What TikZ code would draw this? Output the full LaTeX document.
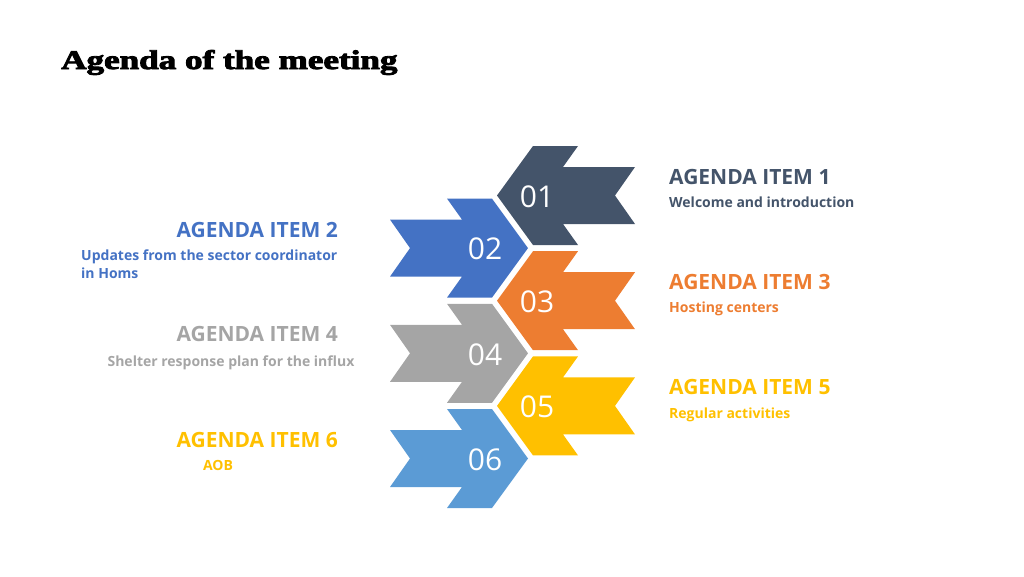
\documentclass[tikz,border=0pt]{standalone}
\usepackage{fontspec}
\setmainfont{Open Sans}
\newfontfamily\titlefont{Liberation Serif Bold}[FakeBold=3]
\definecolor{slate}{HTML}{44546A}
\definecolor{royal}{HTML}{4472C4}
\definecolor{orng}{HTML}{ED7D31}
\definecolor{gry}{HTML}{A5A5A5}
\definecolor{gold}{HTML}{FFC000}
\definecolor{sky}{HTML}{5B9BD5}

\begin{document}
\begin{tikzpicture}[x=1pt,y=-1pt,
	num/.style={text=white,font=\fontsize{30}{30}\selectfont,inner sep=0pt},
	head/.style={font=\bfseries\fontsize{21}{21}\selectfont,inner sep=0pt},
	sub/.style={font=\bfseries\fontsize{14}{18}\selectfont,inner sep=0pt}]
	\useasboundingbox (0,0) rectangle (1024,576);
	\node[font=\titlefont\fontsize{27}{27}\selectfont,anchor=base west,inner sep=0pt] (title) at (61,69) {\scalebox{1.3}[1]{Agenda of the meeting}};
	% arrows pointing left
	\fill[slate,shift={(497,195.5)}] (0,0) -- (36,-49.5) -- (81,-49.5) -- (66,-28.5) -- (138,-28.5) -- (118,0) -- (138,28.5) -- (66,28.5) -- (81,49.5) -- (36,49.5) -- cycle;
	\fill[orng,shift={(497,300.7)}] (0,0) -- (36,-49.5) -- (81,-49.5) -- (66,-28.5) -- (138,-28.5) -- (118,0) -- (138,28.5) -- (66,28.5) -- (81,49.5) -- (36,49.5) -- cycle;
	\fill[gold,shift={(497,405.9)}] (0,0) -- (36,-49.5) -- (81,-49.5) -- (66,-28.5) -- (138,-28.5) -- (118,0) -- (138,28.5) -- (66,28.5) -- (81,49.5) -- (36,49.5) -- cycle;
	% arrows pointing right
	\fill[royal,shift={(528,248.1)}] (0,0) -- (-36,-49.5) -- (-81,-49.5) -- (-66,-28.5) -- (-138,-28.5) -- (-118,0) -- (-138,28.5) -- (-66,28.5) -- (-81,49.5) -- (-36,49.5) -- cycle;
	\fill[gry,shift={(528,353.3)}] (0,0) -- (-36,-49.5) -- (-81,-49.5) -- (-66,-28.5) -- (-138,-28.5) -- (-118,0) -- (-138,28.5) -- (-66,28.5) -- (-81,49.5) -- (-36,49.5) -- cycle;
	\fill[sky,shift={(528,458.5)}] (0,0) -- (-36,-49.5) -- (-81,-49.5) -- (-66,-28.5) -- (-138,-28.5) -- (-118,0) -- (-138,28.5) -- (-66,28.5) -- (-81,49.5) -- (-36,49.5) -- cycle;
	% numbers
	\node[num] (n01) at (537,196.5) {01};
	\node[num] (n02) at (485,249.1) {02};
	\node[num] (n03) at (537,301.7) {03};
	\node[num] (n04) at (485,354.3) {04};
	\node[num] (n05) at (537,406.9) {05};
	\node[num] (n06) at (485,459.5) {06};
	% items on the right
	\node[head,text=slate,anchor=base west] (it1) at (669,184) {AGENDA ITEM 1};
	\node[sub,text=slate,anchor=base west] (it1s) at (669,207) {Welcome and introduction};
	\node[head,text=orng,anchor=base west] (it3) at (669,289) {AGENDA ITEM 3};
	\node[sub,text=orng,anchor=base west] (it3s) at (669,312) {Hosting centers};
	\node[head,text=gold,anchor=base west] (it5) at (669,394) {AGENDA ITEM 5};
	\node[sub,text=gold,anchor=base west] (it5s) at (669,418) {Regular activities};
	% items on the left
	\node[head,text=royal,anchor=base east] (it2) at (338,237) {AGENDA ITEM 2};
	\node[sub,text=royal,anchor=base west,align=left] (it2s) at (81,278) {Updates from the sector coordinator\\in Homs};
	\node[head,text=gry,anchor=base east] (it4) at (338,341) {AGENDA ITEM 4};
	\node[sub,text=gry,anchor=base] (it4s) at (231,366) {Shelter response plan for the influx};
	\node[head,text=gold,anchor=base east] (it6) at (338,447) {AGENDA ITEM 6};
	\node[sub,text=gold,anchor=base] (it6s) at (218,470) {AOB};
\end{tikzpicture}
\end{document}
